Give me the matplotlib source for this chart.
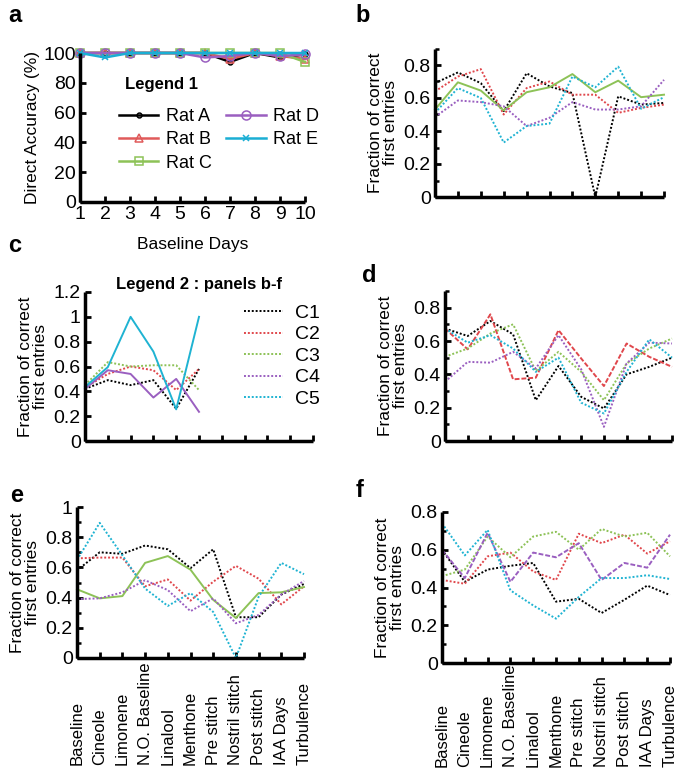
import matplotlib
matplotlib.use("Agg")
import matplotlib.pyplot as plt
import numpy as np
from matplotlib.ticker import MultipleLocator

plt.rcParams['font.family'] = ['Liberation Sans', 'DejaVu Sans']

# ---------------- data ----------------
days = [1, 2, 3, 4, 5, 6, 7, 8, 9, 10]
rat_names = ["Rat A", "Rat B", "Rat C", "Rat D", "Rat E"]
rat_a = [100, 100, 100, 100, 100, 100, 94, 100, 97, 99]
rat_b = [100, 100, 100, 100, 100, 100, 96, 100, 98, 96]
rat_c = [100, 100, 100, 100, 100, 100, 100, 100, 100, 94]
rat_d = [100, 100, 100, 100, 100, 97, 98, 100, 98, 99]
rat_e = [100, 97, 100, 100, 100, 100, 100, 100, 100, 100]

conditions = ["Baseline", "Cineole", "Limonene", "N.O. Baseline", "Linalool",
              "Menthone", "Pre stitch", "Nostril stitch", "Post stitch",
              "IAA Days", "Turbulence"]
series_names = ["C1", "C2", "C3", "C4", "C5"]

b_c1 = [0.69, 0.755, 0.69, 0.52, 0.75, 0.67, 0.63, 0.0, 0.61, 0.56, 0.57]
b_c2 = [0.64, 0.73, 0.775, 0.50, 0.66, 0.70, 0.62, 0.62, 0.51, 0.54, 0.56]
b_c3 = [0.53, 0.695, 0.645, 0.525, 0.635, 0.665, 0.745, 0.635, 0.705, 0.605, 0.62]
b_c4 = [0.485, 0.585, 0.575, 0.55, 0.43, 0.48, 0.575, 0.53, 0.53, 0.55, 0.71]
b_c5 = [0.51, 0.66, 0.60, 0.33, 0.43, 0.445, 0.73, 0.665, 0.79, 0.535, 0.605]

c_c1 = [0.42, 0.49, 0.45, 0.49, 0.26, 0.58]
c_c2 = [0.43, 0.54, 0.60, 0.57, 0.41, 0.58]
c_c3 = [0.45, 0.635, 0.60, 0.61, 0.61, 0.41]
c_c4 = [0.42, 0.57, 0.54, 0.35, 0.50, 0.235]
c_c5 = [0.435, 0.595, 1.0, 0.72, 0.255, 1.0]

d_c1 = [0.675, 0.63, 0.72, 0.64, 0.245, 0.45, 0.265, 0.195, 0.40, 0.445, 0.50]
d_c2 = [0.675, 0.55, 0.76, 0.37, 0.38, 0.665, 0.495, 0.33, 0.585, 0.505, 0.445]
d_c3 = [0.505, 0.555, 0.645, 0.70, 0.42, 0.535, 0.415, 0.245, 0.465, 0.555, 0.615]
d_c4 = [0.355, 0.475, 0.47, 0.535, 0.435, 0.635, 0.43, 0.085, 0.465, 0.59, 0.585]
d_c5 = [0.675, 0.59, 0.635, 0.555, 0.415, 0.50, 0.23, 0.165, 0.415, 0.61, 0.50]

e_c1 = [0.58, 0.70, 0.69, 0.745, 0.72, 0.595, 0.72, 0.27, 0.27, 0.42, 0.49]
e_c2 = [0.66, 0.665, 0.665, 0.475, 0.52, 0.38, 0.505, 0.61, 0.525, 0.355, 0.475]
e_c3 = [0.455, 0.395, 0.41, 0.63, 0.675, 0.585, 0.385, 0.265, 0.43, 0.435, 0.47]
e_c4 = [0.39, 0.395, 0.435, 0.515, 0.45, 0.31, 0.395, 0.23, 0.285, 0.42, 0.51]
e_c5 = [0.65, 0.895, 0.68, 0.46, 0.345, 0.43, 0.305, 0.0, 0.405, 0.63, 0.555]

f_c1 = [0.60, 0.43, 0.495, 0.515, 0.53, 0.325, 0.34, 0.265, 0.335, 0.41, 0.36]
f_c2 = [0.44, 0.42, 0.565, 0.585, 0.485, 0.44, 0.685, 0.635, 0.68, 0.58, 0.645]
f_c3 = [0.46, 0.495, 0.67, 0.56, 0.67, 0.695, 0.60, 0.71, 0.67, 0.69, 0.565]
f_c4 = [0.60, 0.45, 0.69, 0.43, 0.585, 0.56, 0.635, 0.44, 0.53, 0.505, 0.68]
f_c5 = [0.74, 0.57, 0.705, 0.385, 0.305, 0.235, 0.35, 0.45, 0.45, 0.465, 0.445]

# ---------------- style ----------------
COLS = ["#000000", "#e0474c", "#8dc257", "#9a5fc0", "#1fb3d2"]
DOT = (0, (1, 1))
DASH = (0, (2.5, 1))

fig = plt.figure(figsize=(6.81, 7.75), dpi=100)

def style_axes(ax, ymax, ymajor, yminor=None, xmax=10, xmin=0):
    for s in ["top", "right"]:
        ax.spines[s].set_visible(False)
    for s in ["left", "bottom"]:
        ax.spines[s].set_linewidth(2.5)
    ax.set_ylim(0, ymax)
    ax.set_xlim(xmin, xmax)
    ax.yaxis.set_major_locator(MultipleLocator(ymajor))
    if yminor:
        ax.yaxis.set_minor_locator(MultipleLocator(yminor))
    ax.tick_params(direction="in", length=4, width=2, labelsize=14, pad=3)
    ax.tick_params(which="minor", direction="in", length=3, width=1.8)
    for sp in ax.spines.values():
        sp.set_capstyle("butt")

def fmt(v, pos):
    if abs(v) < 1e-9:
        return "0"
    if abs(v - round(v)) < 1e-9:
        return str(int(round(v)))
    return ("%.1f" % v)

# ---------------- panel a ----------------
axa = fig.add_axes([80/681, 1-202/775, 225/681, 149/775])
rat_series = [rat_a, rat_b, rat_c, rat_d, rat_e]
rat_markers = ["o", "^", "s", "o", "x"]
rat_msize = [3.5, 5.5, 5.5, 6.5, 5]
rat_cols = ["#000000", "#e05a5a", "#8dc257", "#9a5fc0", "#1aaed4"]
handles_a = []
for vals, name, mk, ms, c in zip(rat_series, rat_names, rat_markers, rat_msize, rat_cols):
    h, = axa.plot(days, vals, color=c, lw=1.8, marker=mk, ms=ms,
                  mfc="none", mec=c, mew=1.1, label=name, clip_on=False)
    handles_a.append(h)
style_axes(axa, 100, 20, xmin=1)
axa.set_xticks(days)
axa.set_ylabel("Direct Accuracy (%)", fontsize=12.5, labelpad=2)
axa.set_xlabel("Baseline Days", fontsize=12.5, labelpad=10)
axa.yaxis.set_major_formatter(plt.FuncFormatter(fmt))
leg1 = axa.legend(handles=handles_a, ncol=2, frameon=False, fontsize=13,
                  loc="upper left", bbox_to_anchor=(0.14, 0.68),
                  handlelength=2.2, handletextpad=0.4, columnspacing=0.8,
                  labelspacing=0.35, borderaxespad=0)
axa.text(0.2, 0.79, "Legend 1", transform=axa.transAxes, fontsize=12,
         fontweight="bold", ha="left", va="center")

# ---------------- panel b-f helpers ----------------
def draw_panel(ax, data, styles):
    hs = []
    for vals, c, ls, name in zip(data, COLS, styles, series_names):
        h, = ax.plot(range(len(vals)), vals, color=c, lw=1.4, ls=ls, label=name,
                     clip_on=False)
        hs.append(h)
    ax.set_xticks(range(len(conditions)))
    ax.set_xticklabels([])
    ax.set_ylabel("Fraction of correct\nfirst entries", fontsize=12.5,
                  linespacing=1.0, labelpad=4)
    ax.yaxis.set_major_formatter(plt.FuncFormatter(fmt))
    return hs

def cond_labels(ax, ybottom):
    for i, lab in enumerate(conditions):
        ax.text(i, ybottom, lab, transform=ax.get_xaxis_transform(),
                rotation=90, ha="center", va="bottom", fontsize=12)

# panel b
axb = fig.add_axes([435/681, 1-197/775, 229/681, 148.5/775])
style_axes(axb, 0.9, 0.2, 0.1)
draw_panel(axb, [b_c1, b_c2, b_c3, b_c4, b_c5], [DOT, DOT, "-", DOT, DOT])

# panel c
axc = fig.add_axes([85/681, 1-441/775, 228/681, 149/775])
style_axes(axc, 1.2, 0.2)
hc = draw_panel(axc, [c_c1, c_c2, c_c3, c_c4, c_c5], [DOT, DOT, DOT, "-", "-"])
leg_handles = []
for c in COLS:
    h, = axc.plot([], [], color=c, lw=1.4, ls=DOT)
    leg_handles.append(h)
axc.legend(handles=leg_handles, labels=series_names, frameon=False, fontsize=14,
           loc="upper left", bbox_to_anchor=(0.665, 0.97), handlelength=2.0,
           handletextpad=0.6, labelspacing=0.2, borderaxespad=0)
axc.text(0.5, 1.0, "Legend 2 : panels b-f", transform=axc.transAxes,
         fontsize=12, fontweight="bold", ha="center", va="bottom")

# panel d
axd = fig.add_axes([445/681, 1-441/775, 227/681, 150/775])
style_axes(axd, 0.9, 0.2, 0.1)
draw_panel(axd, [d_c1, d_c2, d_c3, d_c4, d_c5], [DOT, DASH, DOT, DOT, DOT])

# panel e
axe = fig.add_axes([77/681, 1-658/775, 227/681, 151/775])
style_axes(axe, 1.0, 0.2, 0.1)
draw_panel(axe, [e_c1, e_c2, e_c3, e_c4, e_c5], [DOT, DOT, "-", DOT, DOT])
cond_labels(axe, -0.71)

# panel f
axf = fig.add_axes([442/681, 1-663/775, 228/681, 151/775])
style_axes(axf, 0.8, 0.2, 0.1)
draw_panel(axf, [f_c1, f_c2, f_c3, f_c4, f_c5], [DOT, DOT, DOT, DASH, DOT])
cond_labels(axf, -0.69)

# panel letters
for x, y, t in [(8, 22, "a"), (355, 22, "b"), (8, 252, "c"), (362, 282, "d"),
                (10, 502, "e"), (356, 497, "f")]:
    fig.text(x/681, 1-y/775, t, fontsize=17, fontweight="bold",
             ha="left", va="baseline")

fig.savefig("out.png", dpi=100)
